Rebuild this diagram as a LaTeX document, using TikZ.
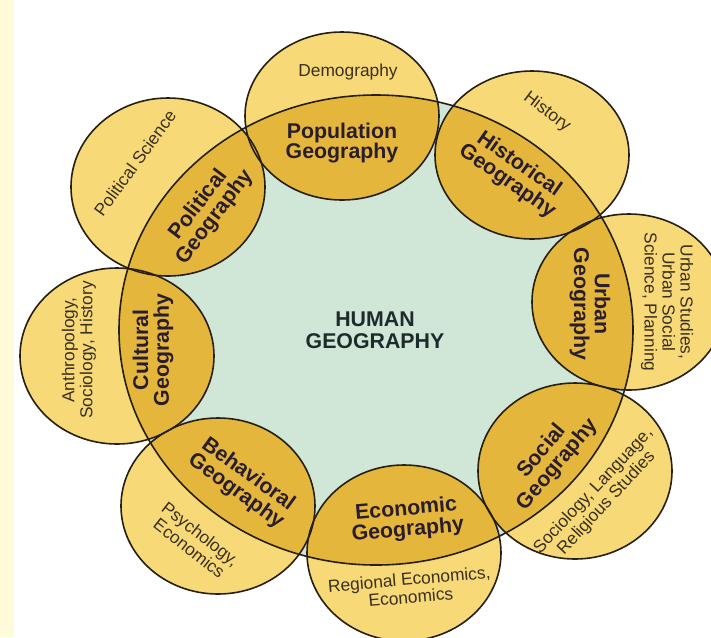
\documentclass[tikz,border=0pt]{standalone}
\usepackage{fontspec}
\setmainfont{Liberation Sans}
\definecolor{lightY}{HTML}{F8D978}
\definecolor{darkY}{HTML}{E5B63C}
\definecolor{mint}{HTML}{D0E7D8}
\definecolor{edge}{HTML}{261F14}
\definecolor{lbl}{HTML}{2A1E2E}
\definecolor{otxt}{HTML}{3A3020}
\definecolor{hubtxt}{HTML}{1E2B2B}
\definecolor{strip}{HTML}{FFFBD8}
\tikzset{
  bigtxt/.style={font=\fontsize{16}{15.5}\selectfont\bfseries, align=center, text=lbl, inner sep=0pt},
  smalltxt/.style={font=\fontsize{13}{13.5}\selectfont, align=center, text=otxt, inner sep=0pt},
  outline/.style={draw=edge, line width=1.2pt},
}
\begin{document}
\begin{tikzpicture}[x=0.75pt, y=-0.75pt]
\path[use as bounding box, fill=white] (0,0) rectangle (711,637);
\fill[strip] (0,0) rectangle (14,637);
\def\rx{97}
\def\circles{pop/84,his/84,urb/88,soc/88,eco/88,beh/88,cul/88,pol/89}
\coordinate (pop) at (342,116);
\coordinate (his) at (532,155);
\coordinate (urb) at (629,302);
\coordinate (soc) at (575,471);
\coordinate (eco) at (404,553);
\coordinate (beh) at (218,506);
\coordinate (cul) at (117,356);
\coordinate (pol) at (168,187);
\coordinate (hub) at (376,330);
\fill[mint] (hub) ellipse [x radius=257, y radius=235];
\foreach \c/\r in \circles
  \fill[lightY] (\c) ellipse [x radius=\rx, y radius=\r];
\begin{scope}
  \clip (hub) ellipse [x radius=257, y radius=235];
  \foreach \c/\r in \circles
    \fill[darkY] (\c) ellipse [x radius=\rx, y radius=\r];
\end{scope}
\foreach \c/\r in \circles
  \draw[outline] (\c) ellipse [x radius=\rx, y radius=\r];
\draw[outline] (hub) ellipse [x radius=257, y radius=235];

\node[bigtxt] (popL) at (342,143) {Population\\Geography};
\node[smalltxt] (popO) at (348,72) {Demography};
\node[bigtxt, rotate=-35] (hisL) at (513,173) {Historical\\Geography};
\node[smalltxt, rotate=-37] (hisO) at (547,112) {History};
\node[bigtxt, rotate=-90] (urbL) at (590,304) {Urban\\Geography};
\node[smalltxt, rotate=-90] (urbO) at (667,302) {Urban Studies,\\Urban Social\\Science, Planning};
\node[bigtxt, rotate=50] (socL) at (550,458) {Social\\Geography};
\node[smalltxt, rotate=47] (socO) at (600,497) {Sociology, Language,\\Religious Studies};
\node[bigtxt, rotate=5] (ecoL) at (407,520) {Economic\\Geography};
\node[smalltxt, rotate=5] (ecoO) at (410,588) {Regional Economics,\\Economics};
\node[bigtxt, rotate=-36] (behL) at (242,483) {Behavioral\\Geography};
\node[smalltxt, rotate=-38] (behO) at (195,541) {Psychology,\\Economics};
\node[bigtxt, rotate=90] (culL) at (153,350) {Cultural\\Geography};
\node[smalltxt, rotate=90] (culO) at (79,350) {Anthropology,\\Sociology, History};
\node[bigtxt, rotate=53] (polL) at (207,211) {Political\\Geography};
\node[smalltxt, rotate=54] (polO) at (135,163) {Political Science};
\node[font=\fontsize{16}{16.5}\selectfont\bfseries, align=center, text=hubtxt] (hubL) at (375,330) {HUMAN\\GEOGRAPHY};
\end{tikzpicture}
\end{document}
